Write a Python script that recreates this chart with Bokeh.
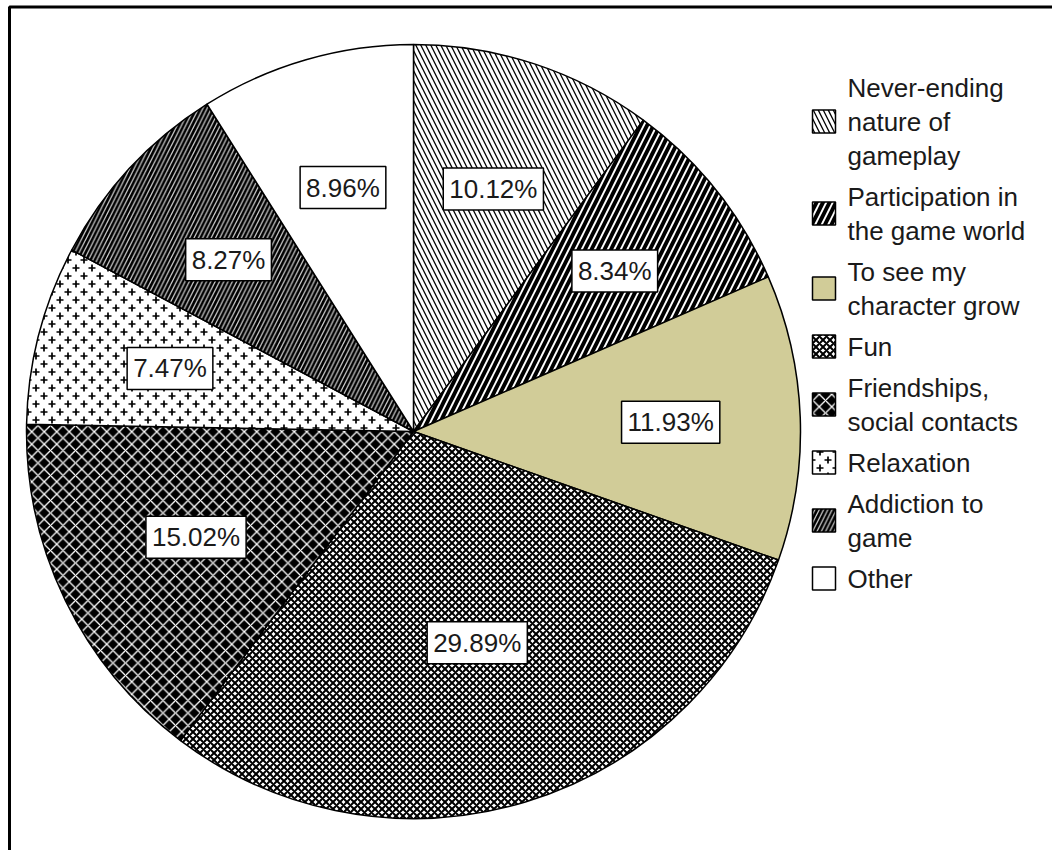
import base64
import numpy as np
from bokeh.plotting import figure
from bokeh.models import ColumnDataSource, Range1d, ImageURLTexture
from bokeh.core.properties import value
from bokeh.embed import file_html
from bokeh.resources import INLINE

# Reasons for playing (share of answers, %), clockwise from 12 o'clock
categories = [
    "Never-ending nature of gameplay",
    "Participation in the game world",
    "To see my character grow",
    "Fun",
    "Friendships, social contacts",
    "Relaxation",
    "Addiction to game",
    "Other",
]
legend_lines = [
    ["Never-ending", "nature of", "gameplay"],
    ["Participation in", "the game world"],
    ["To see my", "character grow"],
    ["Fun"],
    ["Friendships,", "social contacts"],
    ["Relaxation"],
    ["Addiction to", "game"],
    ["Other"],
]
shares = [10.12, 8.34, 11.93, 29.89, 15.02, 7.47, 8.27, 8.96]
share_labels = ["10.12%", "8.34%", "11.93%", "29.89%", "15.02%", "7.47%", "8.27%", "8.96%"]

# ---- layout (page pixels; y measured downward, converted below) ----
W, H = 1052, 850
CX, CY_PX, R = 413, 431, 387
CY = H - CY_PX
label_radius = [0.66, 0.665, 0.665, 0.57, 0.625, 0.65, 0.652, 0.656]
FONT = "Liberation Sans"
FONT_SIZE = "26px"

# staggered plus-sign tile for the relaxation slice
plus_svg = (
    "<svg xmlns='http://www.w3.org/2000/svg' width='16' height='16'>"
    "<rect width='16' height='16' fill='white'/>"
    "<path d='M4 0.5v7M0.5 4h7M12 8.5v7M8.5 12h7' stroke='black' stroke-width='1.7' fill='none'/>"
    "</svg>"
)
plus_url = "data:image/svg+xml;base64," + base64.b64encode(plus_svg.encode()).decode()
plus_texture = ImageURLTexture(url=plus_url, repetition="repeat")

styles = [
    dict(fill="white", hatch="\\", hcolor="black", scale=10.0, weight=1.3),
    dict(fill="black", hatch="/", hcolor="white", scale=13.0, weight=1.9),
    dict(fill="#D1CC98", hatch=None),
    dict(fill="white", hatch="x", hcolor="black", scale=7.0, weight=2.0),
    dict(fill="black", hatch="x", hcolor="white", scale=12.5, weight=1.3),
    dict(fill="white", hatch="plus", hcolor="black", scale=16, weight=1),
    dict(fill="black", hatch="/", hcolor="#d8d8d8", scale=8.6, weight=1.2),
    dict(fill="white", hatch=None),
]


def hatch_kwargs(st):
    if st["hatch"] is None:
        return dict(hatch_pattern=None)
    kw = dict(hatch_pattern=value(st["hatch"]), hatch_color=st["hcolor"],
              hatch_scale=st["scale"], hatch_weight=st["weight"])
    if st["hatch"] == "plus":
        kw["hatch_extra"] = {"plus": plus_texture}
    return kw


p = figure(width=W, height=H, x_range=Range1d(0, W), y_range=Range1d(0, H),
           x_axis_type=None, y_axis_type=None, toolbar_location=None,
           output_backend="svg", min_border=0)
p.outline_line_color = None
p.grid.visible = False
p.background_fill_color = "white"
p.border_fill_color = "white"

# frame lines (left and top)
p.line(x=[9, 9, W + 20], y=[-20, H - 6.5, H - 6.5], line_color="black", line_width=3)

# pie slices
frac = np.array(shares) / np.sum(shares)
cum_end = np.cumsum(frac)
cum_start = cum_end - frac
for i, st in enumerate(styles):
    a0 = np.pi / 2 - 2 * np.pi * cum_start[i]
    a1 = np.pi / 2 - 2 * np.pi * cum_end[i]
    p.wedge(x=CX, y=CY, radius=R, start_angle=a0, end_angle=a1, direction="clock",
            fill_color=st["fill"], line_color="black", line_width=1.5,
            **hatch_kwargs(st))

# value labels in white boxes
mid = 2 * np.pi * (cum_start + frac / 2)
lx = CX + np.array(label_radius) * R * np.sin(mid)
ly = CY + np.array(label_radius) * R * np.cos(mid)
lab_src = ColumnDataSource(dict(x=lx, y=ly, text=share_labels))
p.text(x="x", y="y", text="text", source=lab_src,
       text_align="center", text_baseline="middle",
       text_font=value(FONT), text_font_size=FONT_SIZE, text_color="#1a1a1a",
       background_fill_color="white", border_line_color="black",
       border_line_width=1.5, padding=6)

# legend
LINE, GAP = 34, 41
SW = 23
cursor = 87
for i, lines in enumerate(legend_lines):
    n = len(lines)
    centre = cursor + (n - 1) * LINE / 2
    st = styles[i]
    p.rect(x=812 + SW / 2, y=H - centre, width=SW, height=SW,
           fill_color=st["fill"], line_color="black", line_width=1.5,
           **hatch_kwargs(st))
    ys = [H - (cursor + k * LINE) for k in range(n)]
    p.text(x=[847] * n, y=ys, text=lines, text_font=value(FONT),
           text_font_size=FONT_SIZE, text_color="#1a1a1a", text_baseline="middle")
    cursor += (n - 1) * LINE + GAP

open("out.html", "w").write(file_html(p, INLINE))
